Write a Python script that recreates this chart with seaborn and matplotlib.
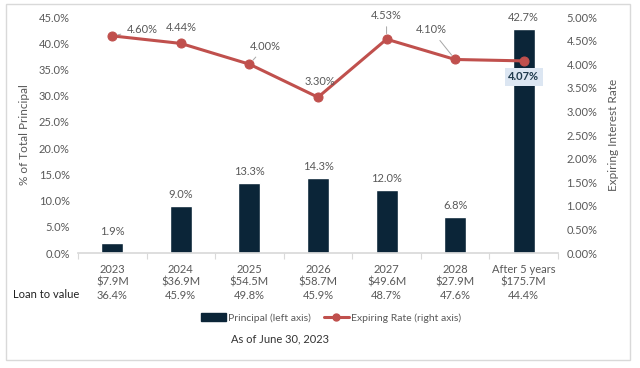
import numpy as np
import pandas as pd
import seaborn as sns
import matplotlib.pyplot as plt
from matplotlib.patches import Patch, Rectangle
from matplotlib.lines import Line2D
from matplotlib.ticker import FuncFormatter, FixedLocator

# data
years = ["2023", "2024", "2025", "2026", "2027", "2028", "After 5 years"]
amounts = ["$7.9M", "$36.9M", "$54.5M", "$58.7M", "$49.6M", "$27.9M", "$175.7M"]
ltv = ["36.4%", "45.9%", "49.8%", "45.9%", "48.7%", "47.6%", "44.4%"]
principal = [1.9, 9.0, 13.3, 14.3, 12.0, 6.8, 42.7]
rate = [4.60, 4.44, 4.00, 3.30, 4.53, 4.10, 4.07]

BAR = "#0B2538"
LINE = "#C0504D"
TXT = "#595959"

sns.set_theme(style="white")
plt.rcParams['font.family'] = ['Lato', 'DejaVu Sans']

df = pd.DataFrame({"year": years, "principal": principal, "rate": rate})

fig = plt.figure(figsize=(6.4, 3.68), dpi=100)
ax = fig.add_axes([78 / 640, 1 - 253 / 368, 480 / 640, 236 / 368])

sns.barplot(data=df, x="year", y="principal", ax=ax, color=BAR, width=0.32,
            saturation=1)
ax.set_xlim(-0.5, len(years) - 0.5)
ax.set_ylim(0, 45)
ax.set_yticks(np.arange(0, 46, 5))
ax.yaxis.set_major_formatter(FuncFormatter(lambda v, p: f"{v:.1f}%"))
ax.set_xticks(range(len(years)))
ax.set_xticklabels([f"{y}\n{a}\n{l}" for y, a, l in zip(years, amounts, ltv)],
                   linespacing=1.2)
ax.xaxis.set_minor_locator(FixedLocator(np.arange(-0.5, len(years), 1.0)))
ax.tick_params(axis="x", which="major", length=0, pad=8, labelsize=8, labelcolor=TXT)
ax.tick_params(axis="x", which="minor", length=4, width=0.8, color="#D9D9D9", bottom=True)
ax.tick_params(axis="y", length=0, labelsize=8, labelcolor=TXT, pad=6)
ax.set_xlabel("")
ax.set_ylabel("% of Total Principal", fontsize=8.5, color=TXT, labelpad=6)
for s in ["top", "left", "right"]:
    ax.spines[s].set_visible(False)
ax.spines["bottom"].set_color("#D9D9D9")

for i, v in enumerate(principal):
    ax.text(i, v + 1.2, f"{v:.1f}%", ha="center", va="bottom", fontsize=8, color=TXT)

ax2 = ax.twinx()
sns.lineplot(x=np.arange(len(years)), y=rate, ax=ax2, color=LINE, linewidth=2.2,
             marker="o", markersize=6.5, markeredgecolor=LINE, markerfacecolor=LINE)
ax2.set_ylim(0, 5)
ax2.set_yticks(np.arange(0, 5.01, 0.5))
ax2.yaxis.set_major_formatter(FuncFormatter(lambda v, p: f"{v:.2f}%"))
ax2.tick_params(axis="y", length=0, labelsize=8, labelcolor=TXT, pad=6)
ax2.set_ylabel("Expiring Interest Rate", fontsize=8.5, color=TXT, labelpad=8)
for s in ["top", "left", "right", "bottom"]:
    ax2.spines[s].set_visible(False)

# rate labels (offsets in pixels)
offs = [(30, 6), (0, 16), (16, 18), (2, 16), (0, 24), (-24, 30), (0, -16)]
leader = [True, False, True, False, True, True, False]
for i, (r, (dx, dy), ld) in enumerate(zip(rate, offs, leader)):
    kw = {}
    if ld:
        kw["arrowprops"] = dict(arrowstyle="-", color="#A6A6A6", lw=0.7,
                                shrinkA=2, shrinkB=4)
    if i == len(rate) - 1:
        ax2.annotate(f"{r:.2f}%", (i, r), xytext=(dx, dy), textcoords="offset pixels",
                     ha="center", va="center", fontsize=8, color="#1F3A4D",
                     fontweight="bold",
                     bbox=dict(boxstyle="square,pad=0.3", fc="#DCE6F2", ec="none"))
    else:
        ax2.annotate(f"{r:.2f}%", (i, r), xytext=(dx, dy), textcoords="offset pixels",
                     ha="center", va="center", fontsize=8, color=TXT, **kw)

fig.text(46 / 640, 1 - 294 / 368, "Loan to value", ha="center", va="center",
         fontsize=8, color="#222222")

handles = [Patch(facecolor=BAR, edgecolor=BAR),
           Line2D([0], [0], color=LINE, lw=2.2, marker="o", markersize=5)]
fig.legend(handles, ["Principal (left axis)", "Expiring Rate (right axis)"],
           loc="center", bbox_to_anchor=(331 / 640, 1 - 318 / 368), ncol=2,
           frameon=False, fontsize=7.5, labelcolor=TXT, handlelength=2.4,
           handletextpad=0.2, columnspacing=1.2)
fig.text(280 / 640, 1 - 339 / 368, "As of June 30, 2023", ha="center", va="center",
         fontsize=8, color="#333333")

fig.patches.append(Rectangle((6 / 640, 1 - 360 / 368), 624 / 640, 356 / 368,
                             transform=fig.transFigure, fill=False,
                             edgecolor="#D9D9D9", lw=1))

fig.savefig("out.png", dpi=100)
